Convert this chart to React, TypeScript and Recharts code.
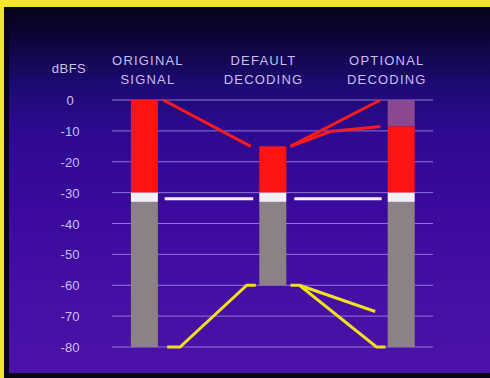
import { ComposedChart, Bar, Line, XAxis, YAxis, CartesianGrid } from "recharts";

// columns
const stagePos = [1, 2, 3];
const headPos = [1.03, 1.93, 2.89];
const headTop = ["ORIGINAL", "DEFAULT", "OPTIONAL"];
const headBottom = ["SIGNAL", "DECODING", "DECODING"];
const dbTicks = [0, -10, -20, -30, -40, -50, -60, -70, -80];

// bar levels, dBFS
const capTop = [null, null, 0];
const redTop = [0, -15, -8.5];
const whiteTop = [-30, -30, -30];
const greyTop = [-33, -33, -33];
const floorLevel = [-80, -60, -80];

// connecting lines: x in column units, db in dBFS
const redIn = [
  { x: 1.15, db: 0 },
  { x: 1.83, db: -15 },
];
const redOutTop = [
  { x: 2.14, db: -15 },
  { x: 2.84, db: 0 },
];
const redOutLow = [
  { x: 2.14, db: -15 },
  { x: 2.45, db: -10.2 },
  { x: 2.84, db: -8.6 },
];
const whiteLeft = [
  { x: 1.16, db: -32 },
  { x: 1.85, db: -32 },
];
const whiteRight = [
  { x: 2.17, db: -32 },
  { x: 2.85, db: -32 },
];
const yellowIn = [
  { x: 1.18, db: -80 },
  { x: 1.28, db: -80 },
  { x: 1.8, db: -60 },
  { x: 1.87, db: -60 },
];
const yellowOutLow = [
  { x: 2.14, db: -60 },
  { x: 2.21, db: -60 },
  { x: 2.81, db: -80 },
  { x: 2.88, db: -80 },
];
const yellowOutHigh = [
  { x: 2.21, db: -60 },
  { x: 2.8, db: -68.5 },
];

const barData = stagePos.map((x, i) => ({
  x,
  cap: capTop[i] === null ? null : [capTop[i], redTop[i]],
  red: [redTop[i], whiteTop[i]],
  white: [whiteTop[i], greyTop[i]],
  grey: [greyTop[i], floorLevel[i]],
}));

const textColor = "#cdbdf0";
const font = "'Liberation Sans', Arial, sans-serif";
const xDomain = [0.75, 3.25];

function HeadTick({ x, y, payload }: any) {
  const i = headPos.indexOf(payload.value);
  return (
    <g fill={textColor} fontFamily={font} fontSize={13} letterSpacing={1.2} textAnchor="middle">
      <text x={x} y={y - 27}>{headTop[i]}</text>
      <text x={x} y={y - 8}>{headBottom[i]}</text>
    </g>
  );
}

function DbTick({ y, payload }: any) {
  return (
    <text x={70} y={y + 5} fill={textColor} fontFamily={font} fontSize={13} textAnchor="middle">
      {payload.value}
    </text>
  );
}

const barAxes = ["a", "b", "c", "d"];
const lineProps = { xAxisId: "ln", dataKey: "db", type: "linear" as const, strokeWidth: 3, dot: false, isAnimationActive: false };

export default function App() {
  if (typeof document !== "undefined") document.body.style.background = "#0a0418";
  return (
    <div
      style={{
        position: "absolute",
        left: 0,
        top: 0,
        width: 490,
        height: 378,
        overflow: "hidden",
        background:
          "linear-gradient(180deg, #050214 0%, #0c0538 10%, #1c0a72 22%, #2e0a90 35%, #3a0a9c 55%, #4610a4 80%, #4c12a8 100%)",
      }}
    >
      <div style={{ position: "absolute", left: 0, top: 0, width: 490, height: 7, background: "#f2e52a" }} />
      <div style={{ position: "absolute", left: 0, top: 0, width: 4, height: 378, background: "#f2e52a" }} />
      <div style={{ position: "absolute", left: 4, top: 7, width: 5, height: 371, background: "#0a0418" }} />
      <div style={{ position: "absolute", left: 4, top: 373, width: 486, height: 5, background: "#0a0418" }} />
      <div
        style={{
          position: "absolute",
          left: 40,
          top: 61,
          width: 58,
          textAlign: "center",
          color: textColor,
          fontFamily: font,
          fontSize: 13,
          letterSpacing: 0.5,
        }}
      >
        dBFS
      </div>
      <div style={{ position: "absolute", left: 0, top: 0 }}>
        <ComposedChart width={490} height={378} data={barData} margin={{ top: 40, right: 57, bottom: 31, left: 0 }}>
          <CartesianGrid horizontal vertical={false} stroke="#a48ce8" strokeOpacity={0.8} xAxisId="hd" />
          <XAxis
            xAxisId="hd"
            dataKey="x"
            type="number"
            orientation="top"
            domain={xDomain}
            ticks={headPos}
            allowDataOverflow
            axisLine={false}
            tickLine={false}
            height={60}
            tick={<HeadTick />}
          />
          {barAxes.map((id) => (
            <XAxis key={id} xAxisId={id} dataKey="x" type="number" domain={xDomain} allowDataOverflow hide />
          ))}
          <XAxis xAxisId="ln" dataKey="x" type="number" domain={xDomain} allowDataOverflow hide />
          <YAxis
            type="number"
            domain={[-80, 0]}
            ticks={dbTicks}
            width={112}
            axisLine={false}
            tickLine={false}
            tick={<DbTick />}
          />
          <Bar xAxisId="a" dataKey="cap" barSize={27} fill="#8c4890" isAnimationActive={false} />
          <Bar xAxisId="b" dataKey="red" barSize={27} fill="#ff1414" isAnimationActive={false} />
          <Bar xAxisId="c" dataKey="white" barSize={27} fill="#f4f0f4" isAnimationActive={false} />
          <Bar xAxisId="d" dataKey="grey" barSize={27} fill="#8c8286" isAnimationActive={false} />
          {[redIn, redOutTop, redOutLow].map((d, i) => (
            <Line key={"r" + i} {...lineProps} data={d} stroke="#ff1a1a" />
          ))}
          {[whiteLeft, whiteRight].map((d, i) => (
            <Line key={"w" + i} {...lineProps} data={d} stroke="#f4f0fa" />
          ))}
          {[yellowIn, yellowOutLow, yellowOutHigh].map((d, i) => (
            <Line key={"y" + i} {...lineProps} data={d} stroke="#f0e020" />
          ))}
        </ComposedChart>
      </div>
    </div>
  );
}
